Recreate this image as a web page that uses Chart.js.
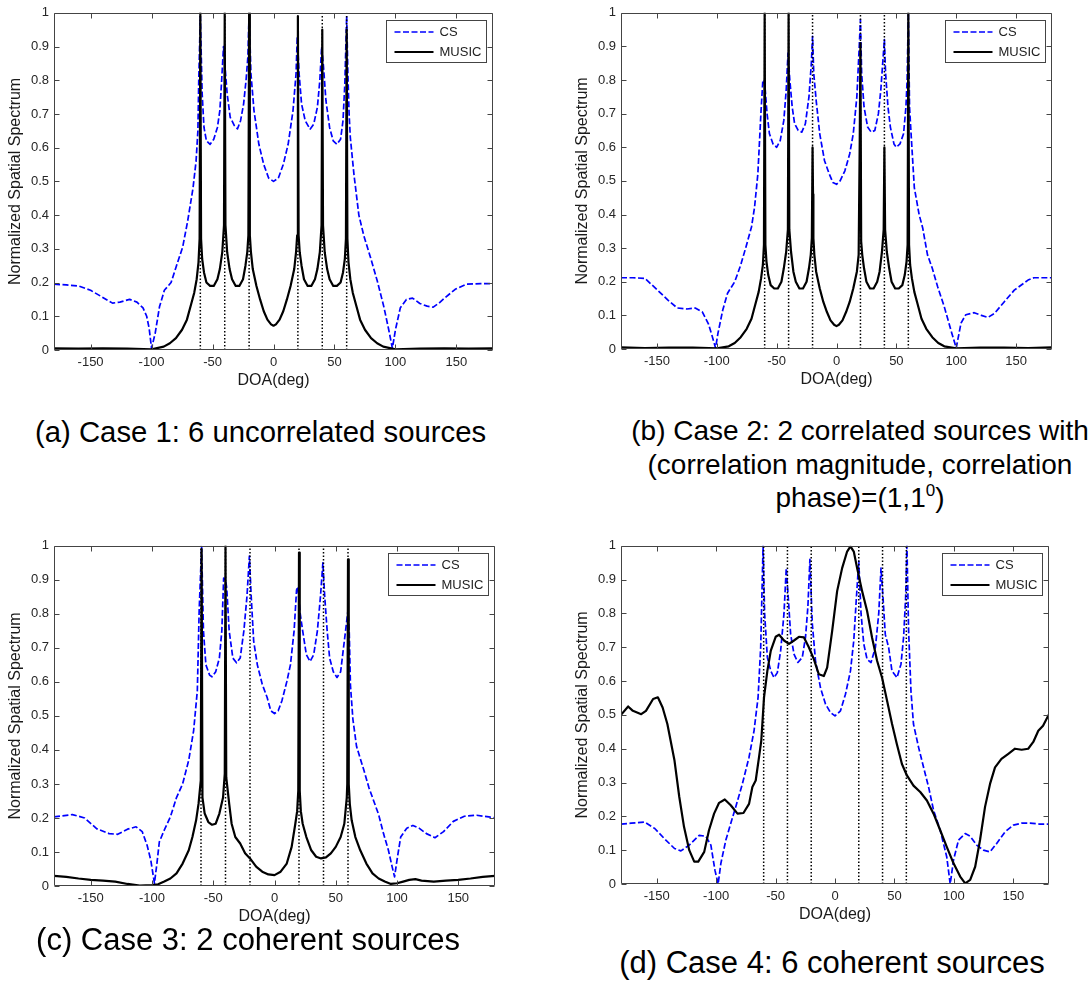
<!doctype html>
<html lang="en">
<head>
<meta charset="utf-8">
<title>Normalized spatial spectrum: CS vs MUSIC</title>
<style>
  * { margin: 0; padding: 0; }
  body {
    width: 1091px; height: 985px; background: #fff; position: relative; overflow: hidden;
    font-family: "Liberation Sans", Arial, sans-serif;
  }
  canvas { position: absolute; }
  .caption {
    position: absolute; font-size: 30px; line-height: 33.5px; color: #000;
    white-space: nowrap;
  }
  .caption.center { text-align: center; transform: translateX(-50%); }
  .caption sup { font-size: 17px; line-height: 0; vertical-align: 11px; }
</style>
</head>
<body>
<canvas id="caseA"></canvas>
<canvas id="caseB"></canvas>
<canvas id="caseC"></canvas>
<canvas id="caseD"></canvas>

<div class="caption" style="left:35px; top:415px; font-size:29.3px">(a) Case 1: 6 uncorrelated sources</div>
<div class="caption center" style="left:860px; top:414px; font-size:28px">(b) Case 2: 2 correlated sources with<br>(correlation magnitude, correlation<br>phase)=(1,1<sup>0</sup>)</div>
<div class="caption center" style="left:248px; top:923px; font-size:31px">(c) Case 3: 2 coherent sources</div>
<div class="caption center" style="left:832px; top:946px; font-size:31px">(d) Case 4: 6 coherent sources</div>

<script src="https://cdn.jsdelivr.net/npm/chart.js/dist/chart.umd.min.js"></script>
<script>
// true source directions (deg) and axis ticks
const sources = [-60, -40, -20, 20, 40, 60];
const xTicks = [-150, -100, -50, 0, 50, 100, 150];
const yTicks = [0, 0.1, 0.2, 0.3, 0.4, 0.5, 0.6, 0.7, 0.8, 0.9, 1];

// spectra as [DOA, level] pairs
const csA = [[-180,0.195],[-170,0.193],[-160,0.19],[-150,0.177],[-140,0.156],[-132,0.139],[-126,0.142],[-118,0.15],[-112,0.142],[-107,0.125],[-104,0.1],[-102,0.065],[-100,0.005],[-97,0.05],[-93.5,0.128],[-89.5,0.177],[-84,0.2],[-80,0.245],[-74.5,0.305],[-70.5,0.38],[-66,0.48],[-63.5,0.56],[-62,0.65],[-61.3,0.8],[-60,0.99],[-58.5,0.76],[-57,0.66],[-55,0.62],[-52,0.61],[-49,0.625],[-46,0.66],[-44,0.71],[-42.5,0.8],[-41,0.9],[-39.5,0.83],[-38,0.76],[-35.5,0.69],[-32,0.665],[-29.5,0.656],[-27,0.68],[-24.5,0.73],[-22.5,0.8],[-21,0.87],[-20,1.0],[-18.5,0.82],[-16,0.71],[-12,0.61],[-8,0.55],[-4,0.51],[0,0.5],[4,0.51],[8,0.55],[12,0.61],[16,0.71],[18.5,0.82],[19.5,0.93],[21,0.82],[23,0.73],[26,0.68],[30,0.655],[33,0.67],[36,0.72],[38,0.8],[39.5,0.9],[41,0.84],[43,0.74],[46,0.66],[49,0.62],[52,0.61],[55,0.625],[57,0.68],[58.5,0.79],[60,0.99],[61,0.82],[62,0.7],[63,0.63],[66,0.52],[70,0.4],[74,0.34],[79.5,0.275],[85,0.206],[90.5,0.128],[94.5,0.06],[97.5,0.005],[100,0.06],[104,0.125],[109,0.15],[114,0.154],[120,0.138],[126,0.13],[131,0.127],[136,0.14],[140,0.153],[149,0.18],[158,0.195],[170,0.197],[180,0.197]];
const musicA = [[-180,0.005],[-160,0.004],[-140,0.005],[-120,0.004],[-100,0.002],[-90,0.01],[-85,0.02],[-80,0.035],[-75,0.06],[-71,0.09],[-68,0.13],[-65,0.17],[-63,0.21],[-61.5,0.26],[-60.6,0.33],[-60,1.0],[-59.4,0.33],[-58.5,0.27],[-57,0.23],[-55,0.2],[-52,0.19],[-49,0.19],[-46,0.21],[-44,0.24],[-42,0.29],[-40.6,0.37],[-40,1.0],[-39.4,0.37],[-38,0.29],[-36,0.24],[-34,0.21],[-31,0.19],[-28,0.19],[-25,0.21],[-23,0.25],[-21.5,0.29],[-20.6,0.34],[-20,1.0],[-19.4,0.34],[-18.5,0.29],[-17,0.24],[-14,0.19],[-11,0.15],[-8,0.115],[-5,0.09],[-2,0.076],[0,0.072],[2,0.076],[5,0.09],[8,0.115],[11,0.15],[14,0.19],[17,0.24],[18.5,0.29],[19.4,0.34],[20,0.99],[20.6,0.34],[21.5,0.29],[23,0.25],[25,0.21],[28,0.19],[31,0.19],[34,0.21],[36,0.24],[38,0.29],[39.4,0.37],[40,0.95],[40.6,0.37],[42,0.29],[44,0.24],[46,0.21],[49,0.19],[52,0.19],[55,0.2],[57,0.23],[58.5,0.27],[59.4,0.33],[60,0.95],[60.6,0.33],[61.5,0.26],[63,0.21],[65,0.17],[68,0.13],[71,0.09],[75,0.06],[80,0.035],[85,0.02],[90,0.01],[100,0.002],[120,0.004],[140,0.005],[160,0.004],[180,0.005]];

const csB = [[-180,0.212],[-170,0.212],[-160,0.21],[-150,0.177],[-141,0.146],[-133,0.122],[-125,0.119],[-118,0.122],[-112,0.11],[-107,0.075],[-104,0.04],[-101,0.003],[-99,0.047],[-95,0.116],[-91,0.166],[-85,0.2],[-80,0.25],[-75.5,0.305],[-71,0.363],[-68.5,0.42],[-65.7,0.52],[-63,0.71],[-61.5,0.8],[-60.5,0.8],[-59.5,0.77],[-58,0.7],[-56,0.64],[-53,0.61],[-50,0.6],[-47,0.62],[-44,0.68],[-42,0.77],[-40.5,0.88],[-39,0.8],[-37,0.72],[-35,0.67],[-32,0.65],[-29,0.645],[-26,0.67],[-23,0.75],[-21,0.85],[-20,0.93],[-19,0.82],[-17,0.74],[-14,0.64],[-10,0.56],[-6,0.52],[-3,0.495],[0,0.49],[3,0.5],[7,0.53],[11,0.58],[14,0.64],[17,0.75],[19,0.9],[20,0.98],[21,0.82],[23,0.72],[26,0.66],[29,0.645],[32,0.65],[35,0.7],[37,0.77],[39,0.87],[40,0.92],[41,0.82],[43,0.72],[45,0.66],[48,0.61],[50,0.6],[53,0.61],[56,0.64],[58,0.72],[59,0.8],[60,1.0],[61,0.72],[62.3,0.64],[65,0.48],[69,0.4],[72,0.36],[76,0.28],[80,0.24],[84.5,0.185],[90,0.126],[95.5,0.057],[100,0.003],[104,0.077],[108,0.102],[115,0.108],[121,0.1],[126.5,0.094],[132,0.106],[140,0.14],[148.5,0.175],[160,0.205],[165,0.212],[180,0.212]];
const musicB = [[-180,0.005],[-160,0.003],[-140,0.004],[-120,0.004],[-100,0.002],[-90,0.008],[-85,0.018],[-80,0.035],[-75,0.06],[-71,0.09],[-68,0.13],[-65,0.17],[-63,0.21],[-61.5,0.25],[-60.6,0.31],[-60,1.0],[-59.4,0.31],[-58.5,0.26],[-57,0.22],[-55,0.19],[-52,0.18],[-49,0.18],[-46,0.2],[-44,0.24],[-42,0.29],[-40.6,0.355],[-40,1.0],[-39.4,0.355],[-38,0.29],[-36,0.23],[-34,0.2],[-31,0.18],[-28,0.18],[-25,0.2],[-23,0.24],[-21.5,0.28],[-20.6,0.33],[-20,0.6],[-19.6,0.46],[-19.3,0.33],[-18.5,0.28],[-17,0.23],[-14,0.18],[-11,0.14],[-8,0.11],[-5,0.085],[-2,0.072],[0,0.068],[2,0.072],[5,0.085],[8,0.11],[11,0.14],[14,0.18],[17,0.23],[18.5,0.28],[19.4,0.62],[20,0.91],[20.6,0.32],[21.5,0.28],[23,0.24],[25,0.2],[28,0.18],[31,0.18],[34,0.2],[36,0.23],[38,0.29],[39.4,0.355],[40,0.6],[40.6,0.355],[42,0.29],[44,0.24],[46,0.2],[49,0.18],[52,0.18],[55,0.19],[57,0.22],[58.5,0.26],[59.4,0.31],[60,1.0],[60.6,0.31],[61.5,0.25],[63,0.21],[65,0.17],[68,0.13],[71,0.09],[75,0.06],[80,0.035],[85,0.018],[90,0.008],[100,0.002],[120,0.004],[140,0.004],[160,0.003],[180,0.005]];

const csC = [[-180,0.203],[-165,0.21],[-155,0.2],[-145,0.168],[-135,0.154],[-128,0.152],[-120,0.167],[-113,0.174],[-108,0.16],[-104,0.12],[-101,0.076],[-98,0.008],[-96,0.066],[-94,0.13],[-90,0.164],[-85,0.203],[-80,0.26],[-75,0.3],[-70,0.37],[-66,0.457],[-63,0.574],[-61.5,0.81],[-59.5,0.998],[-58,0.75],[-56,0.65],[-53,0.62],[-51,0.615],[-48,0.63],[-45,0.67],[-43,0.75],[-41.5,0.905],[-40,0.9],[-39,0.876],[-37,0.75],[-34,0.67],[-31,0.656],[-28,0.67],[-25,0.75],[-22.5,0.85],[-20.5,0.97],[-19,0.85],[-17,0.72],[-14,0.65],[-10,0.593],[-6,0.554],[-3,0.515],[0,0.507],[3,0.515],[6,0.544],[10,0.6],[13,0.65],[16,0.75],[18,0.87],[19,0.88],[21,0.8],[23,0.75],[26,0.68],[29,0.66],[32,0.68],[35,0.75],[37.5,0.85],[39.5,0.95],[41,0.85],[43,0.75],[45,0.67],[48,0.63],[51,0.613],[54,0.63],[57,0.72],[59,0.78],[60,0.81],[61,0.75],[62,0.59],[64,0.49],[67,0.41],[70,0.375],[73,0.34],[77,0.29],[81,0.25],[85,0.21],[89,0.154],[93,0.105],[96,0.057],[98,0.027],[100,0.076],[103,0.144],[108,0.17],[113,0.178],[118,0.17],[124,0.154],[131,0.142],[138,0.16],[146,0.19],[155,0.205],[165,0.208],[175,0.203],[180,0.2]];
const musicC = [[-180,0.03],[-170,0.027],[-160,0.022],[-150,0.018],[-140,0.016],[-130,0.013],[-120,0.006],[-110,0.001],[-100,0.003],[-95,0.005],[-90,0.013],[-85,0.022],[-80,0.037],[-75,0.066],[-70,0.105],[-67,0.144],[-64,0.193],[-62,0.242],[-60.2,0.31],[-59.5,0.99],[-58.8,0.26],[-57,0.213],[-54,0.188],[-51,0.18],[-48,0.183],[-45,0.213],[-42,0.26],[-40.6,0.33],[-40,1.0],[-39.4,0.32],[-37,0.242],[-35,0.183],[-32,0.144],[-28,0.125],[-24,0.096],[-20,0.081],[-15,0.057],[-10,0.042],[-5,0.034],[0,0.032],[5,0.042],[10,0.066],[14,0.115],[17,0.183],[18.5,0.22],[19.4,0.28],[20,0.98],[20.6,0.28],[21.5,0.22],[23,0.183],[26,0.144],[30,0.105],[34,0.086],[38,0.081],[42,0.084],[46,0.096],[50,0.115],[54,0.144],[57,0.183],[59,0.26],[59.4,0.3],[60,0.96],[60.6,0.3],[61.5,0.24],[63,0.193],[66,0.144],[70,0.105],[75,0.066],[80,0.037],[85,0.022],[90,0.013],[95,0.006],[100,0.008],[105,0.013],[110,0.018],[115,0.02],[120,0.016],[130,0.013],[140,0.016],[150,0.018],[160,0.022],[170,0.027],[180,0.03]];

const csD = [[-180,0.177],[-171.5,0.18],[-160,0.183],[-151.6,0.164],[-143.5,0.134],[-135,0.105],[-129.6,0.098],[-122.6,0.115],[-114.2,0.144],[-108.6,0.141],[-104.4,0.115],[-101,0.041],[-98.3,0.0],[-96,0.061],[-91.8,0.13],[-87.7,0.179],[-83.5,0.228],[-77.9,0.296],[-72.3,0.375],[-68.1,0.453],[-64.7,0.552],[-62.5,0.7],[-60.5,1.0],[-59.2,0.8],[-56.9,0.67],[-54,0.63],[-51.3,0.61],[-48.5,0.625],[-45.7,0.69],[-42.9,0.8],[-41,0.934],[-39.3,0.846],[-37.3,0.738],[-34.5,0.68],[-31.2,0.655],[-27.5,0.67],[-24.8,0.73],[-22.8,0.82],[-21.1,0.96],[-19.1,0.77],[-16.4,0.66],[-12.2,0.58],[-8,0.532],[-3.8,0.507],[0,0.497],[4.6,0.512],[8.8,0.561],[13,0.63],[15.8,0.72],[18,0.846],[20,0.955],[21.9,0.8],[24.2,0.71],[27,0.664],[30.3,0.655],[34,0.7],[36.8,0.8],[38.7,0.934],[40.4,0.846],[42.3,0.738],[45.1,0.7],[47.9,0.63],[52.1,0.61],[55.5,0.65],[57.7,0.73],[59.4,0.846],[60.5,1.0],[61.9,0.75],[63.9,0.57],[66,0.473],[70.3,0.404],[74.5,0.345],[78.7,0.287],[82.9,0.218],[88.5,0.159],[94,0.08],[96.9,0.0],[99.7,0.071],[103.9,0.13],[109.5,0.149],[113.7,0.141],[119.2,0.115],[124.8,0.1],[130.4,0.095],[136,0.12],[143,0.154],[150,0.174],[157,0.18],[164,0.18],[172.3,0.177],[180,0.177]];
const musicD = [[-180,0.5],[-174,0.525],[-170,0.512],[-163,0.502],[-159,0.512],[-153,0.547],[-149,0.552],[-145,0.522],[-141,0.473],[-135,0.365],[-131,0.258],[-127,0.169],[-122.6,0.1],[-118.4,0.066],[-115,0.066],[-110,0.095],[-106,0.159],[-101.7,0.208],[-97.5,0.24],[-92.7,0.25],[-87.7,0.233],[-82,0.208],[-77,0.21],[-72.3,0.237],[-69.5,0.287],[-66.7,0.306],[-63.9,0.375],[-62,0.424],[-59.7,0.552],[-56.9,0.63],[-54,0.69],[-49.9,0.731],[-47,0.737],[-42.9,0.72],[-38.7,0.71],[-34.5,0.72],[-30.3,0.731],[-26.1,0.729],[-22,0.7],[-17.8,0.665],[-13.6,0.62],[-9.4,0.615],[-6.6,0.64],[-2.4,0.748],[1.8,0.866],[6,0.934],[10.2,0.983],[13,0.998],[15.8,0.983],[18.6,0.934],[22.8,0.866],[27,0.807],[31.2,0.728],[35.4,0.66],[39.6,0.61],[43.8,0.542],[48,0.473],[52,0.414],[56.3,0.355],[60.5,0.321],[66,0.291],[71.7,0.272],[77.3,0.247],[82.9,0.208],[88.5,0.159],[94,0.11],[99.7,0.061],[105.3,0.022],[109.5,0.002],[113.7,0.012],[117.9,0.051],[122,0.13],[126.2,0.228],[130.4,0.296],[134.6,0.345],[140,0.37],[145.8,0.385],[151.4,0.4],[157,0.397],[162.5,0.4],[166.8,0.42],[171,0.453],[175,0.468],[180,0.502]];

const FONT = '"Liberation Sans", Arial, sans-serif';
const AXIS = '#262626';
const LEGEND_ORDER = ['CS', 'MUSIC'];

// MATLAB-style box with inward ticks on all four sides
const boxTicks = {
  id: 'boxTicks',
  afterDatasetsDraw(chart) {
    const { ctx, chartArea: a, scales: { x, y } } = chart;
    const L = Math.round(a.left) + 0.5, R = Math.round(a.right) - 0.5;
    const T = Math.round(a.top) + 0.5, B = Math.round(a.bottom) - 0.5;
    ctx.save();
    ctx.strokeStyle = '#444';
    ctx.lineWidth = 1;
    ctx.beginPath();
    ctx.rect(L, T, R - L, B - T);
    x.ticks.forEach(t => {
      const px = Math.round(x.getPixelForValue(t.value)) + 0.5;
      ctx.moveTo(px, B); ctx.lineTo(px, B - 5);
      ctx.moveTo(px, T); ctx.lineTo(px, T + 5);
    });
    y.ticks.forEach(t => {
      const py = Math.round(y.getPixelForValue(t.value)) + 0.5;
      ctx.moveTo(L, py); ctx.lineTo(L + 5, py);
      ctx.moveTo(R, py); ctx.lineTo(R - 5, py);
    });
    ctx.stroke();
    ctx.restore();
  }
};

// boxed legend in the upper right corner of the plot
const boxLegend = {
  id: 'boxLegend',
  afterDraw(chart) {
    const { ctx, chartArea: a } = chart;
    const items = LEGEND_ORDER.map(name => chart.data.datasets.find(d => d.label === name));
    const w = 100, h = 42;
    const left = Math.round(a.right - 7 - w) + 0.5, top = Math.round(a.top + 7) + 0.5;
    ctx.save();
    ctx.fillStyle = '#fff';
    ctx.fillRect(left, top, w, h);
    ctx.strokeStyle = '#444';
    ctx.lineWidth = 1;
    ctx.strokeRect(left, top, w, h);
    ctx.font = '13px ' + FONT;
    ctx.textBaseline = 'middle';
    items.forEach((d, i) => {
      const yy = Math.round(top + 11 + i * 20);
      ctx.strokeStyle = d.borderColor;
      ctx.lineWidth = d.borderWidth;
      ctx.setLineDash(d.borderDash || []);
      ctx.beginPath();
      ctx.moveTo(left + 8, yy);
      ctx.lineTo(left + 47, yy);
      ctx.stroke();
      ctx.setLineDash([]);
      ctx.fillStyle = '#222';
      ctx.fillText(d.label, left + 53, yy);
    });
    ctx.restore();
  }
};

const toXY = pairs => pairs.map(([x, y]) => ({ x, y }));

function makePanel(id, area, cs, music) {
  const canvas = document.getElementById(id);
  // canvas is sized so the plot area lands on the given rectangle
  canvas.width = area.right - area.left + 54 + 40;
  canvas.height = area.bottom - area.top + 11 + 50;
  canvas.style.left = (area.left - 54) + 'px';
  canvas.style.top = (area.top - 11) + 'px';

  const stems = sources.map(s => ({
    label: 'source',
    data: [{ x: s, y: 0 }, { x: s, y: 1 }],
    borderColor: '#000', borderWidth: 1.5, borderDash: [1.5, 2],
    pointRadius: 0, clip: 0
  }));

  // first dataset is painted last: stems over MUSIC over CS
  return new Chart(canvas, {
    type: 'line',
    data: {
      datasets: [
        ...stems,
        { label: 'MUSIC', data: toXY(music), borderColor: '#000', borderWidth: 2.2,
          pointRadius: 0, borderJoinStyle: 'round', clip: 0 },
        { label: 'CS', data: toXY(cs), borderColor: '#0000ff', borderWidth: 1.7,
          borderDash: [6, 2.5], pointRadius: 0, borderJoinStyle: 'round', clip: 0 }
      ]
    },
    options: {
      responsive: false,
      animation: false,
      events: [],
      layout: { padding: { left: 0, top: 11, right: 40, bottom: 0 } },
      plugins: { legend: { display: false }, tooltip: { enabled: false } },
      scales: {
        x: {
          type: 'linear', min: -180, max: 180,
          afterBuildTicks: s => { s.ticks = xTicks.map(v => ({ value: v })); },
          afterFit: s => { s.height = 50; },
          grid: { display: false, drawTicks: false },
          border: { display: false },
          ticks: { autoSkip: false, maxRotation: 0, padding: 5, color: AXIS,
                   font: { family: FONT, size: 13 } },
          title: { display: true, text: 'DOA(deg)', color: '#1a1a1a',
                   font: { family: FONT, size: 16 }, padding: { top: 0, bottom: 10 } }
        },
        y: {
          type: 'linear', min: 0, max: 1,
          afterBuildTicks: s => { s.ticks = yTicks.map(v => ({ value: v })); },
          afterFit: s => { s.width = 54; },
          grid: { display: false, drawTicks: false },
          border: { display: false },
          ticks: { padding: 5, color: AXIS, font: { family: FONT, size: 13 },
                   callback: v => String(v) },
          title: { display: true, text: 'Normalized Spatial Spectrum', color: '#1a1a1a',
                   font: { family: FONT, size: 16 }, padding: { top: 6, bottom: 0 } }
        }
      }
    },
    plugins: [boxTicks, boxLegend]
  });
}

makePanel('caseA', { left: 54, top: 11, right: 493, bottom: 350 }, csA, musicA);
makePanel('caseB', { left: 621, top: 11, right: 1052, bottom: 349 }, csB, musicB);
makePanel('caseC', { left: 54, top: 544, right: 495, bottom: 886 }, csC, musicC);
makePanel('caseD', { left: 621, top: 544, right: 1049, bottom: 884 }, csD, musicD);
</script>
</body>
</html>
